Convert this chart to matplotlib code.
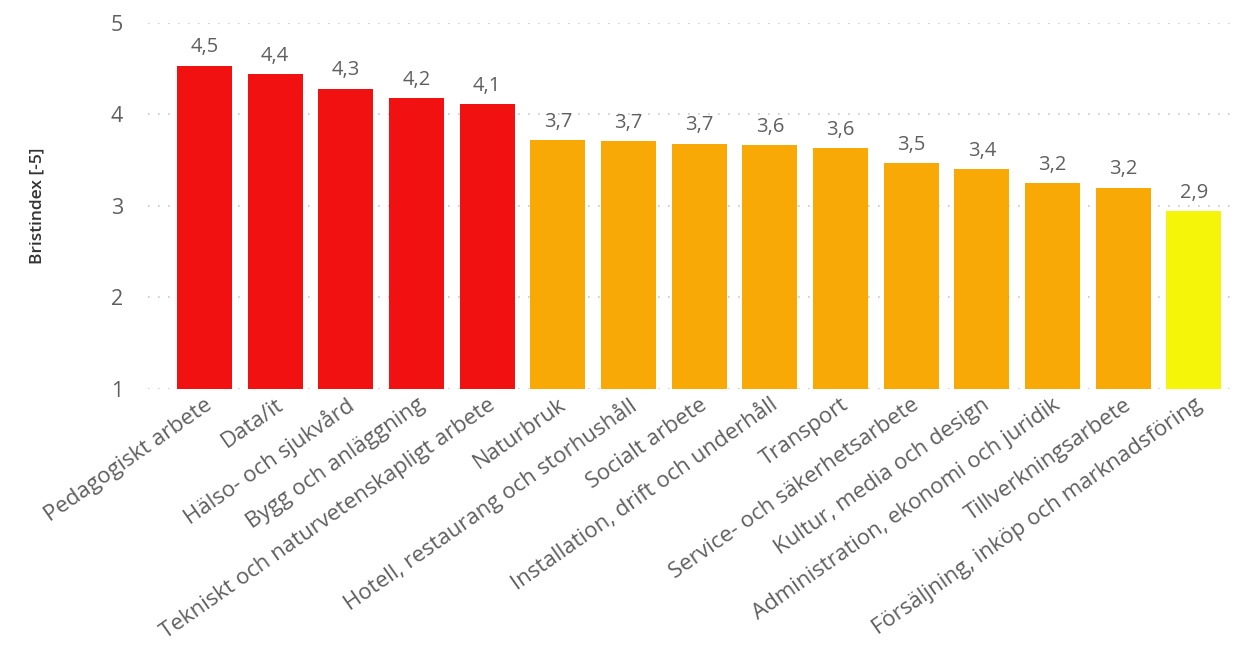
import numpy as np
import matplotlib.pyplot as plt

plt.rcParams['font.family'] = ['Open Sans', 'DejaVu Sans']

categories = ['Pedagogiskt arbete', 'Data/it', 'Hälso- och sjukvård', 'Bygg och anläggning',
              'Tekniskt och naturvetenskapligt arbete', 'Naturbruk',
              'Hotell, restaurang och storhushåll', 'Socialt arbete',
              'Installation, drift och underhåll', 'Transport', 'Service- och säkerhetsarbete',
              'Kultur, media och design', 'Administration, ekonomi och juridik',
              'Tillverkningsarbete', 'Försäljning, inköp och marknadsföring']
values = [4.53, 4.44, 4.28, 4.18, 4.11, 3.72, 3.71, 3.68, 3.66, 3.63, 3.47, 3.40, 3.25, 3.20, 2.94]
labels = ['4,5', '4,4', '4,3', '4,2', '4,1', '3,7', '3,7', '3,7', '3,6', '3,6', '3,5', '3,4', '3,2', '3,2', '2,9']
yticks = [1, 2, 3, 4, 5]

def bar_color(v):
    if v >= 4.0:
        return '#F21111'
    if v >= 3.0:
        return '#F9A905'
    return '#F5F50A'

text_col = '#5F5F5F'

fig = plt.figure(figsize=(12.43, 6.51), dpi=100)
ax = fig.add_axes([0.119, 0.4025, 0.871, 0.5625])

x = np.arange(len(values))
ax.bar(x, values, width=0.78, color=[bar_color(v) for v in values], zorder=2)

for xi, v, lab in zip(x, values, labels):
    ax.annotate(lab, (xi, v), xytext=(0, 6), textcoords='offset points',
                ha='center', va='bottom', fontsize=14.5, color=text_col)

ax.set_ylim(1, 5)
ax.set_xlim(-0.8, 14.52)
ax.set_yticks(yticks)
ax.set_yticklabels([str(t) for t in yticks], fontsize=15.5, color=text_col)
ax.set_xticks(x)
ax.set_xticklabels(categories, rotation=35, ha='right', rotation_mode='anchor',
                   fontsize=16, color=text_col)
ax.tick_params(axis='both', length=0)
ax.tick_params(axis='y', pad=18)
ax.tick_params(axis='x', pad=4)

ax.grid(axis='y', linestyle=(0, (1, 5)), color='#C8C8C8', linewidth=1.2, zorder=0)
for s in ax.spines.values():
    s.set_visible(False)

ax.set_ylabel('Bristindex [-5]', fontsize=12.5, color='#333333', fontweight='semibold', labelpad=47)

fig.savefig('out.png', dpi=100)
